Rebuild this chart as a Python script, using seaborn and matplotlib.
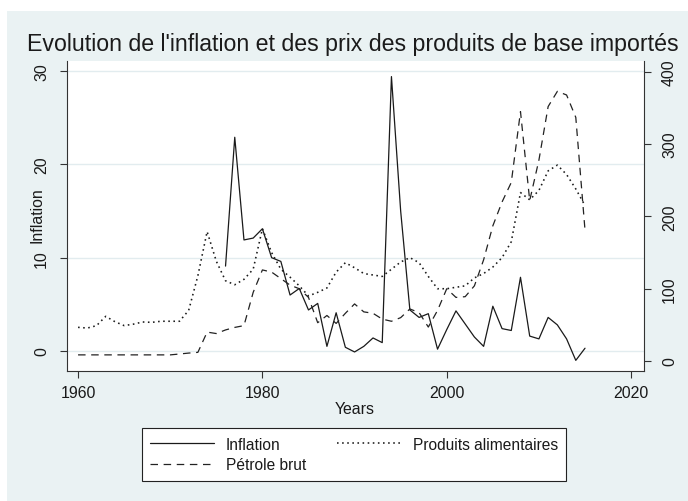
import matplotlib
matplotlib.use("Agg")
import matplotlib.pyplot as plt
from matplotlib.patches import Rectangle
import seaborn as sns
import pandas as pd
import numpy as np

# Values (1960-2015)
years = list(range(1960, 2016))

# Inflation (left axis), series begins in 1976
inflation = [np.nan] * 16 + [
    9.1, 22.9, 11.9, 12.1, 13.1, 10.0, 9.6, 6.0, 6.7, 4.4,
    5.1, 0.5, 4.1, 0.4, -0.1, 0.5, 1.4, 0.9, 29.4, 15.0,
    4.4, 3.6, 4.0, 0.2, 2.3, 4.3, 2.9, 1.5, 0.5, 4.8,
    2.4, 2.2, 7.9, 1.6, 1.3, 3.6, 2.8, 1.3, -1.0, 0.3,
]

# Price indices (right axis)
produits_alimentaires = [
    46.6, 45.6, 48.9, 61.8, 54.4, 49.0, 51.0, 54.0, 53.5, 55.0,
    55.0, 55.0, 70.0, 118.0, 179.0, 138.0, 111.0, 105.5, 113.0, 127.0,
    183.0, 150.0, 127.0, 116.0, 104.0, 90.0, 95.0, 101.0, 123.0, 136.0,
    129.0, 121.0, 119.0, 117.0, 127.0, 137.0, 143.0, 136.0, 117.0, 100.0,
    100.0, 102.0, 104.0, 115.0, 121.0, 130.0, 143.0, 165.0, 233.0, 223.0,
    236.0, 263.0, 271.0, 258.0, 238.0, 215.0,
]

petrole_brut = [
    8.5, 8.5, 8.5, 8.5, 8.5, 8.5, 8.5, 8.5, 8.5, 8.5,
    8.5, 9.7, 11.0, 12.0, 40.0, 38.0, 43.0, 46.5, 49.0, 95.0,
    126.0, 123.0, 114.0, 105.0, 100.0, 88.0, 53.0, 63.0, 52.0, 66.0,
    79.0, 68.0, 66.0, 58.0, 55.0, 60.0, 72.0, 67.0, 47.0, 70.0,
    100.0, 88.0, 89.0, 104.0, 140.0, 187.0, 220.0, 247.0, 345.0, 222.0,
    278.0, 352.0, 373.0, 368.0, 337.0, 181.0,
]

left_ticks = [0, 10, 20, 30]
right_ticks = [0, 100, 200, 300, 400]
x_ticks = [1960, 1980, 2000, 2020]

df = pd.DataFrame({
    "year": years,
    "inflation": inflation,
    "alimentaires": produits_alimentaires,
    "petrole": petrole_brut,
})

BG = "#EAF2F3"
INK = "#1a1a1a"
W, H = 688, 502

sns.set_theme(style="white")
plt.rcParams["font.family"] = ["Liberation Sans", "DejaVu Sans"]

fig = plt.figure(figsize=(W / 100, H / 100), dpi=100)
fig.patch.set_facecolor("white")
fig.patches.append(Rectangle((7 / W, 0), 1, (H - 12) / H, transform=fig.transFigure,
                             facecolor=BG, edgecolor="none", zorder=-5))

# plot region in pixels: x 67..644, y 62..372
ax = fig.add_axes([67 / W, (H - 372) / H, 577 / W, 310 / H])
ax.set_facecolor("white")

sns.lineplot(data=df, x="year", y="inflation", ax=ax, color=INK, lw=0.9,
             legend=False)

ax2 = ax.twinx()
sns.lineplot(data=df, x="year", y="alimentaires", ax=ax2, color=INK, lw=1.15,
             linestyle=(0, (1, 2.2)), legend=False)
sns.lineplot(data=df, x="year", y="petrole", ax=ax2, color="#222222", lw=0.9,
             linestyle=(0, (6, 4.5)), legend=False)

ax.set_xlim(1958.8, 2021.4)
ax.set_ylim(-2.14, 31.07)
ax2.set_ylim(-13.8, 415)
ax.set_xticks(x_ticks)
ax.set_yticks(left_ticks)
ax2.set_yticks(right_ticks)

ax.yaxis.grid(True, color="#e2ecef", lw=1.0)
ax.xaxis.grid(False)
ax2.grid(False)
ax.set_axisbelow(True)

for a in (ax, ax2):
    for s in a.spines.values():
        s.set_color("#333333")
        s.set_linewidth(0.8)
    a.spines["top"].set_visible(False)
ax.spines["right"].set_visible(False)
ax2.spines["left"].set_visible(False)
ax2.spines["bottom"].set_visible(False)

ax.tick_params(axis="x", direction="out", length=5, width=0.8, color="#333333",
               labelsize=11.4, labelcolor=INK, pad=5, bottom=True)
ax.tick_params(axis="y", direction="out", length=5, width=0.8, color="#333333",
               labelsize=11.4, labelcolor=INK, pad=8, labelrotation=90, left=True)
ax2.tick_params(axis="y", direction="out", length=5, width=0.8, color="#333333",
                labelsize=11.4, labelcolor=INK, pad=8, labelrotation=90, right=True)
for lab in ax.get_yticklabels() + ax2.get_yticklabels():
    lab.set_va("center")

ax.set_xlabel("Years", fontsize=11.4, color=INK, va="center")
ax.xaxis.set_label_coords((355 - 67) / 577, (372 - 409) / 310)
ax.set_ylabel("Inflation", fontsize=11.4, color=INK, va="center", ha="center")
ax.yaxis.set_label_coords((37 - 67) / 577, (372 - 215) / 310)
ax2.set_ylabel("")

fig.text(353 / W, 1 - 45 / H,
         "Evolution de l'inflation et des prix des produits de base importés",
         ha="center", va="center", fontsize=16.7, color="#1b1b1b")

handles = [ax.lines[0], ax2.lines[1], ax2.lines[0]]
labels = ["Inflation", "Pétrole brut", "Produits alimentaires"]
leg = fig.legend(handles, labels, ncol=2, loc="center",
                 bbox_to_anchor=(354 / W, 1 - 455.5 / H),
                 fontsize=11.2, frameon=True, fancybox=False, shadow=False,
                 handlelength=4.1, handletextpad=0.75, columnspacing=2.0,
                 borderpad=0.55, labelspacing=0.35)
leg.get_frame().set_edgecolor("#222222")
leg.get_frame().set_linewidth(0.8)
leg.get_frame().set_facecolor("white")
leg.get_frame().set_alpha(1)
for t in leg.get_texts():
    t.set_color(INK)

fig.savefig("out.png", dpi=100, facecolor=fig.get_facecolor())
